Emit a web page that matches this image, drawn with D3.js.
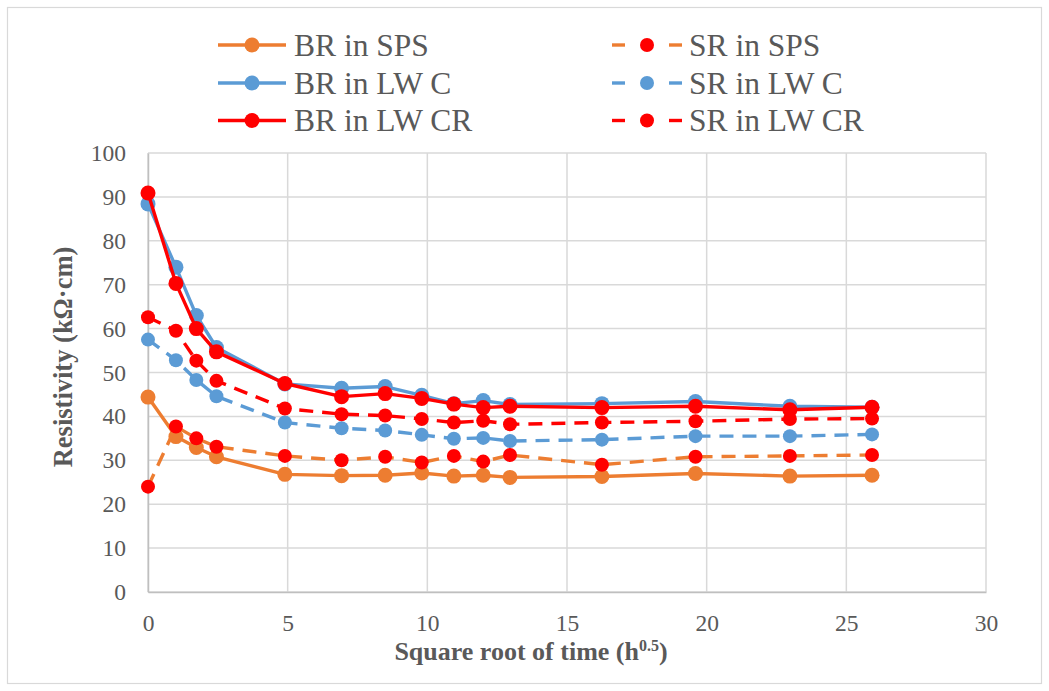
<!DOCTYPE html>
<html>
<head>
<meta charset="utf-8">
<script src="https://cdn.jsdelivr.net/npm/d3@7"></script>
<style>
  html, body { margin: 0; padding: 0; background: #fff; }
  svg { display: block; font-family: "Liberation Serif", "Times New Roman", serif; }
</style>
</head>
<body>
<svg id="chart" width="1049" height="691"></svg>
<script>
// Square root of elapsed time (h^0.5)
const sqrtTime = [0, 1, 1.73, 2.45, 4.9, 6.93, 8.49, 9.8, 10.95, 12, 12.96, 16.25, 19.6, 22.98, 25.92];

// Resistivity (kΩ·cm)
const brSPS  = [44.4, 35.4, 32.9, 30.8, 26.8, 26.5, 26.6, 27.1, 26.4, 26.6, 26.1, 26.3, 27.0, 26.4, 26.6];
const srSPS  = [24.0, 37.7, 35.0, 33.1, 31.0, 30.0, 30.8, 29.5, 31.0, 29.7, 31.2, 29.0, 30.8, 31.0, 31.2];
const brLWC  = [88.4, 74.0, 63.0, 55.7, 47.4, 46.4, 46.8, 44.8, 42.9, 43.6, 42.7, 42.9, 43.4, 42.3, 42.1];
const srLWC  = [57.5, 52.8, 48.3, 44.6, 38.6, 37.3, 36.8, 35.8, 34.9, 35.1, 34.4, 34.7, 35.5, 35.5, 35.9];
const brLWCR = [90.9, 70.3, 60.0, 54.7, 47.5, 44.5, 45.2, 44.1, 42.8, 42.0, 42.3, 42.0, 42.3, 41.5, 42.1];
const srLWCR = [62.6, 59.5, 52.7, 48.1, 41.8, 40.5, 40.2, 39.4, 38.6, 39.0, 38.2, 38.6, 38.9, 39.4, 39.5];

const xTicks = [0, 5, 10, 15, 20, 25, 30];
const yTicks = [0, 10, 20, 30, 40, 50, 60, 70, 80, 90, 100];

const series = [
  { name: "BR in SPS",   values: brSPS,  line: "#ED7D31", marker: "#ED7D31", dashed: false },
  { name: "SR in SPS",   values: srSPS,  line: "#ED7D31", marker: "#FF0000", dashed: true },
  { name: "BR in LW C",  values: brLWC,  line: "#5B9BD5", marker: "#5B9BD5", dashed: false },
  { name: "SR in LW C",  values: srLWC,  line: "#5B9BD5", marker: "#5B9BD5", dashed: true },
  { name: "BR in LW CR", values: brLWCR, line: "#FF0000", marker: "#FF0000", dashed: false },
  { name: "SR in LW CR", values: srLWCR, line: "#FF0000", marker: "#FF0000", dashed: true }
];

const svg = d3.select("#chart");
const W = 1049, H = 691;
const plot = { left: 148, right: 986, top: 153, bottom: 592 };
const DASH = "14,9";
const FONT = "Liberation Serif, Times New Roman, serif";
const TEXT = "#595959";

// Chart frame
svg.append("rect")
  .attr("x", 7.5).attr("y", 7.5)
  .attr("width", W - 15).attr("height", H - 15)
  .attr("fill", "#fff").attr("stroke", "#d9d9d9").attr("stroke-width", 1.2);

const x = d3.scaleLinear().domain([0, 30]).range([plot.left, plot.right]);
const y = d3.scaleLinear().domain([0, 100]).range([plot.bottom, plot.top]);

// Gridlines
const grid = svg.append("g");
grid.selectAll("line.h").data(yTicks).join("line")
  .attr("x1", plot.left).attr("x2", plot.right)
  .attr("y1", d => y(d)).attr("y2", d => y(d))
  .attr("stroke", "#d9d9d9").attr("stroke-width", 1.5);
grid.selectAll("line.v").data(xTicks).join("line")
  .attr("x1", d => x(d)).attr("x2", d => x(d))
  .attr("y1", plot.top).attr("y2", plot.bottom)
  .attr("stroke", "#d9d9d9").attr("stroke-width", 1.5);

// Axes
const xAxis = svg.append("g")
  .attr("transform", `translate(0,${plot.bottom})`)
  .call(d3.axisBottom(x).tickValues(xTicks).tickSize(0).tickPadding(22));
const yAxis = svg.append("g")
  .attr("transform", `translate(${plot.left},0)`)
  .call(d3.axisLeft(y).tickValues(yTicks).tickSize(0).tickPadding(22));
[xAxis, yAxis].forEach(g => {
  g.select(".domain").attr("stroke", "#bfbfbf").attr("stroke-width", 1.5);
  g.selectAll("text")
    .attr("font-family", FONT)
    .attr("font-size", 23.5)
    .attr("fill", TEXT);
});

// Axis titles
svg.append("text")
  .attr("x", 531).attr("y", 660)
  .attr("text-anchor", "middle")
  .attr("font-family", FONT)
  .attr("font-size", 26).attr("font-weight", "bold").attr("fill", TEXT)
  .call(t => {
    t.append("tspan").text("Square root of time (h");
    t.append("tspan").attr("font-size", 16).attr("dy", -9).text("0.5");
    t.append("tspan").attr("dy", 9).text(")");
  });

svg.append("text")
  .attr("transform", "translate(72,357) rotate(-90)")
  .attr("text-anchor", "middle")
  .attr("font-family", FONT)
  .attr("font-size", 26.5).attr("font-weight", "bold").attr("fill", TEXT)
  .text("Resistivity (kΩ·cm)");

// Series
const line = d3.line().x((d, i) => x(sqrtTime[i])).y(d => y(d));
series.forEach(s => {
  const g = svg.append("g");
  g.append("path")
    .datum(s.values)
    .attr("d", line)
    .attr("fill", "none")
    .attr("stroke", s.line)
    .attr("stroke-width", 3.4)
    .attr("stroke-linejoin", "round")
    .attr("stroke-dasharray", s.dashed ? DASH : null);
  g.selectAll("circle").data(s.values).join("circle")
    .attr("cx", (d, i) => x(sqrtTime[i]))
    .attr("cy", d => y(d))
    .attr("r", s.dashed ? 7 : 7.5)
    .attr("fill", s.marker);
});

// Legend
const legend = svg.append("g");
const rowsY = [45, 83, 120.5];
const cols = [
  { x0: 218, x1: 286, tx: 294 },
  { x0: 612, x1: 682, tx: 689 }
];
series.forEach((s, i) => {
  const col = cols[i % 2];
  const yy = rowsY[Math.floor(i / 2)];
  const g = legend.append("g");
  const mid = (col.x0 + col.x1) / 2;
  if (s.dashed) {
    [[col.x0, col.x0 + 13], [col.x1 - 13, col.x1]].forEach(([a, b]) => {
      g.append("line").attr("x1", a).attr("x2", b).attr("y1", yy).attr("y2", yy)
        .attr("stroke", s.line).attr("stroke-width", 3.4);
    });
  } else {
    g.append("line").attr("x1", col.x0).attr("x2", col.x1).attr("y1", yy).attr("y2", yy)
      .attr("stroke", s.line).attr("stroke-width", 3.4);
  }
  g.append("circle").attr("cx", mid).attr("cy", yy).attr("r", s.dashed ? 7 : 7.5).attr("fill", s.marker);
  g.append("text")
    .attr("x", col.tx).attr("y", yy + 10.5)
    .attr("font-family", FONT)
    .attr("font-size", 31.5).attr("fill", TEXT)
    .text(s.name);
});
</script>
</body>
</html>
